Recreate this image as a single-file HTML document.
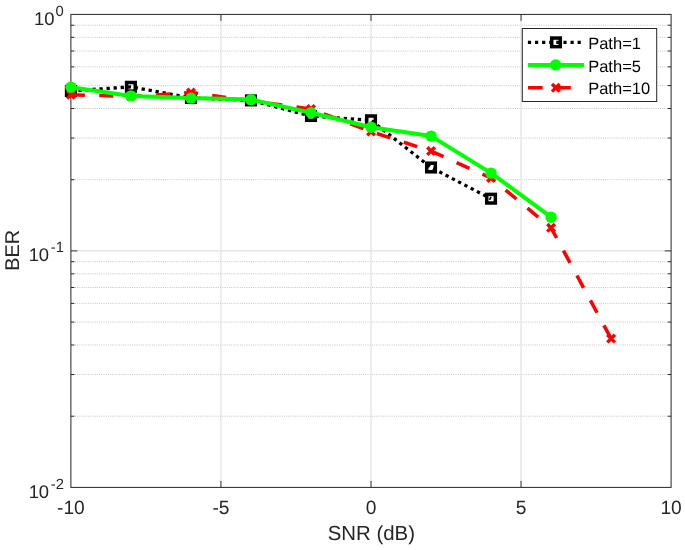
<!DOCTYPE html><html><head><meta charset="utf-8"><style>html,body{margin:0;padding:0;background:#fff;width:685px;height:550px;overflow:hidden}svg{display:block;will-change:transform;text-rendering:geometricPrecision}text{font-family:"Liberation Sans",sans-serif}</style></head><body>
<svg width="685" height="550" viewBox="0 0 685 550">
<rect x="0" y="0" width="685" height="550" fill="#fff"/>
<line x1="74.9" y1="416.21" x2="667.1" y2="416.21" stroke="#c4c4c4" stroke-width="1" stroke-dasharray="1 1.2"/>
<line x1="74.9" y1="374.56" x2="667.1" y2="374.56" stroke="#c4c4c4" stroke-width="1" stroke-dasharray="1 1.2"/>
<line x1="74.9" y1="345.01" x2="667.1" y2="345.01" stroke="#c4c4c4" stroke-width="1" stroke-dasharray="1 1.2"/>
<line x1="74.9" y1="322.09" x2="667.1" y2="322.09" stroke="#c4c4c4" stroke-width="1" stroke-dasharray="1 1.2"/>
<line x1="74.9" y1="303.37" x2="667.1" y2="303.37" stroke="#c4c4c4" stroke-width="1" stroke-dasharray="1 1.2"/>
<line x1="74.9" y1="287.53" x2="667.1" y2="287.53" stroke="#c4c4c4" stroke-width="1" stroke-dasharray="1 1.2"/>
<line x1="74.9" y1="273.82" x2="667.1" y2="273.82" stroke="#c4c4c4" stroke-width="1" stroke-dasharray="1 1.2"/>
<line x1="74.9" y1="261.72" x2="667.1" y2="261.72" stroke="#c4c4c4" stroke-width="1" stroke-dasharray="1 1.2"/>
<line x1="74.9" y1="179.71" x2="667.1" y2="179.71" stroke="#c4c4c4" stroke-width="1" stroke-dasharray="1 1.2"/>
<line x1="74.9" y1="138.06" x2="667.1" y2="138.06" stroke="#c4c4c4" stroke-width="1" stroke-dasharray="1 1.2"/>
<line x1="74.9" y1="108.51" x2="667.1" y2="108.51" stroke="#c4c4c4" stroke-width="1" stroke-dasharray="1 1.2"/>
<line x1="74.9" y1="85.59" x2="667.1" y2="85.59" stroke="#c4c4c4" stroke-width="1" stroke-dasharray="1 1.2"/>
<line x1="74.9" y1="66.87" x2="667.1" y2="66.87" stroke="#c4c4c4" stroke-width="1" stroke-dasharray="1 1.2"/>
<line x1="74.9" y1="51.03" x2="667.1" y2="51.03" stroke="#c4c4c4" stroke-width="1" stroke-dasharray="1 1.2"/>
<line x1="74.9" y1="37.32" x2="667.1" y2="37.32" stroke="#c4c4c4" stroke-width="1" stroke-dasharray="1 1.2"/>
<line x1="74.9" y1="25.22" x2="667.1" y2="25.22" stroke="#c4c4c4" stroke-width="1" stroke-dasharray="1 1.2"/>
<line x1="77.9" y1="250.90" x2="664.1" y2="250.90" stroke="#e1e1e1" stroke-width="1.2"/>
<line x1="220.95" y1="20.4" x2="220.95" y2="481.4" stroke="#e1e1e1" stroke-width="1.2"/>
<line x1="371.00" y1="20.4" x2="371.00" y2="481.4" stroke="#e1e1e1" stroke-width="1.2"/>
<line x1="521.05" y1="20.4" x2="521.05" y2="481.4" stroke="#e1e1e1" stroke-width="1.2"/>
<path d="M70.9 416.21h3.5M671.1 416.21h-3.5M70.9 374.56h3.5M671.1 374.56h-3.5M70.9 345.01h3.5M671.1 345.01h-3.5M70.9 322.09h3.5M671.1 322.09h-3.5M70.9 303.37h3.5M671.1 303.37h-3.5M70.9 287.53h3.5M671.1 287.53h-3.5M70.9 273.82h3.5M671.1 273.82h-3.5M70.9 261.72h3.5M671.1 261.72h-3.5M70.9 179.71h3.5M671.1 179.71h-3.5M70.9 138.06h3.5M671.1 138.06h-3.5M70.9 108.51h3.5M671.1 108.51h-3.5M70.9 85.59h3.5M671.1 85.59h-3.5M70.9 66.87h3.5M671.1 66.87h-3.5M70.9 51.03h3.5M671.1 51.03h-3.5M70.9 37.32h3.5M671.1 37.32h-3.5M70.9 25.22h3.5M671.1 25.22h-3.5M70.9 250.90h6.5M671.1 250.90h-6.5M220.95 487.4v-6.5M220.95 14.4v6.5M371.00 487.4v-6.5M371.00 14.4v6.5M521.05 487.4v-6.5M521.05 14.4v6.5" stroke="#262626" stroke-width="1" fill="none"/>
<rect x="70.9" y="14.4" width="600.2" height="473.0" fill="none" stroke="#262626" stroke-width="1"/>
<polyline points="70.90,91.00 130.92,86.80 190.94,97.90 250.96,100.40 310.98,116.00 371.00,120.30 431.02,167.50 491.04,198.70" fill="none" stroke="#000" stroke-width="3.3" stroke-dasharray="3.3 3.77" stroke-dashoffset="-0.35"/>
<rect x="66.60" y="86.70" width="8.6" height="8.6" fill="none" stroke="#000" stroke-width="3.5"/>
<rect x="126.62" y="82.50" width="8.6" height="8.6" fill="none" stroke="#000" stroke-width="3.5"/>
<rect x="186.64" y="93.60" width="8.6" height="8.6" fill="none" stroke="#000" stroke-width="3.5"/>
<rect x="246.66" y="96.10" width="8.6" height="8.6" fill="none" stroke="#000" stroke-width="3.5"/>
<rect x="306.68" y="111.70" width="8.6" height="8.6" fill="none" stroke="#000" stroke-width="3.5"/>
<rect x="366.70" y="116.00" width="8.6" height="8.6" fill="none" stroke="#000" stroke-width="3.5"/>
<rect x="426.72" y="163.20" width="8.6" height="8.6" fill="none" stroke="#000" stroke-width="3.5"/>
<rect x="486.74" y="194.40" width="8.6" height="8.6" fill="none" stroke="#000" stroke-width="3.5"/>
<polyline points="70.90,94.80 130.92,96.50 190.94,92.60 250.96,100.80 310.98,109.00 371.00,131.60 431.02,151.10 491.04,178.00 551.06,227.80 611.08,338.60" fill="none" stroke="#ff0000" stroke-width="3.5" stroke-dasharray="14 14.33"/>
<path d="M67.10 91.00L74.70 98.60M67.10 98.60L74.70 91.00" stroke="#ff0000" stroke-width="3.4" fill="none"/>
<path d="M127.12 92.70L134.72 100.30M127.12 100.30L134.72 92.70" stroke="#ff0000" stroke-width="3.4" fill="none"/>
<path d="M187.14 88.80L194.74 96.40M187.14 96.40L194.74 88.80" stroke="#ff0000" stroke-width="3.4" fill="none"/>
<path d="M247.16 97.00L254.76 104.60M247.16 104.60L254.76 97.00" stroke="#ff0000" stroke-width="3.4" fill="none"/>
<path d="M307.18 105.20L314.78 112.80M307.18 112.80L314.78 105.20" stroke="#ff0000" stroke-width="3.4" fill="none"/>
<path d="M367.20 127.80L374.80 135.40M367.20 135.40L374.80 127.80" stroke="#ff0000" stroke-width="3.4" fill="none"/>
<path d="M427.22 147.30L434.82 154.90M427.22 154.90L434.82 147.30" stroke="#ff0000" stroke-width="3.4" fill="none"/>
<path d="M487.24 174.20L494.84 181.80M487.24 181.80L494.84 174.20" stroke="#ff0000" stroke-width="3.4" fill="none"/>
<path d="M547.26 224.00L554.86 231.60M547.26 231.60L554.86 224.00" stroke="#ff0000" stroke-width="3.4" fill="none"/>
<path d="M607.28 334.80L614.88 342.40M607.28 342.40L614.88 334.80" stroke="#ff0000" stroke-width="3.4" fill="none"/>
<polyline points="70.90,87.30 130.92,95.90 190.94,98.10 250.96,99.60 310.98,112.80 371.00,127.20 431.02,136.10 491.04,173.10 551.06,217.20" fill="none" stroke="#00ff00" stroke-width="4" stroke-linejoin="round"/>
<circle cx="70.90" cy="87.30" r="5.7" fill="#00ff00"/>
<circle cx="130.92" cy="95.90" r="5.7" fill="#00ff00"/>
<circle cx="190.94" cy="98.10" r="5.7" fill="#00ff00"/>
<circle cx="250.96" cy="99.60" r="5.7" fill="#00ff00"/>
<circle cx="310.98" cy="112.80" r="5.7" fill="#00ff00"/>
<circle cx="371.00" cy="127.20" r="5.7" fill="#00ff00"/>
<circle cx="431.02" cy="136.10" r="5.7" fill="#00ff00"/>
<circle cx="491.04" cy="173.10" r="5.7" fill="#00ff00"/>
<circle cx="551.06" cy="217.20" r="5.7" fill="#00ff00"/>
<text x="70.90" y="513.6" font-size="19.2" fill="#262626" text-anchor="middle">-10</text>
<text x="220.95" y="513.6" font-size="19.2" fill="#262626" text-anchor="middle">-5</text>
<text x="371.00" y="513.6" font-size="19.2" fill="#262626" text-anchor="middle">0</text>
<text x="521.05" y="513.6" font-size="19.2" fill="#262626" text-anchor="middle">5</text>
<text x="671.10" y="513.6" font-size="19.2" fill="#262626" text-anchor="middle">10</text>
<text x="54.52" y="24.7" font-size="18.4" fill="#262626" text-anchor="end">10</text>
<text x="55.52" y="16.00" font-size="14.8" fill="#262626">0</text>
<text x="49.12" y="261.0" font-size="18.4" fill="#262626" text-anchor="end">10</text>
<text x="50.84" y="252.30" font-size="14.8" fill="#262626">-1</text>
<text x="49.12" y="497.6" font-size="18.4" fill="#262626" text-anchor="end">10</text>
<text x="50.74" y="488.90" font-size="14.8" fill="#262626">-2</text>
<text x="371.4" y="539.8" font-size="20.4" fill="#262626" text-anchor="middle">SNR (dB)</text>
<text transform="translate(18.9,250.4) rotate(-90)" x="0" y="0" font-size="19.9" fill="#262626" text-anchor="middle">BER</text>
<rect x="522.3" y="28.5" width="134.4" height="73.0" fill="#fff" stroke="#262626" stroke-width="1"/>
<line x1="527.9" y1="42.35" x2="581.2" y2="42.35" stroke="#000" stroke-width="3.3" stroke-dasharray="3.2 3.9"/>
<rect x="551.70" y="38.05" width="8.6" height="8.6" fill="none" stroke="#000" stroke-width="3.5"/>
<line x1="528" y1="65.0" x2="584" y2="65.0" stroke="#00ff00" stroke-width="4"/>
<circle cx="555.60" cy="65.00" r="5.7" fill="#00ff00"/>
<path d="M528 87.8H542.6M556 87.8H570.8" stroke="#ff0000" stroke-width="3.5"/>
<path d="M552.00 84.00L559.60 91.60M552.00 91.60L559.60 84.00" stroke="#ff0000" stroke-width="3.4" fill="none"/>
<text x="588.2" y="48.5" font-size="16.5" fill="#000">Path=1</text>
<text x="588.2" y="71.5" font-size="16.5" fill="#000">Path=5</text>
<text x="588.2" y="94.2" font-size="16.5" fill="#000">Path=10</text>
</svg></body></html>
